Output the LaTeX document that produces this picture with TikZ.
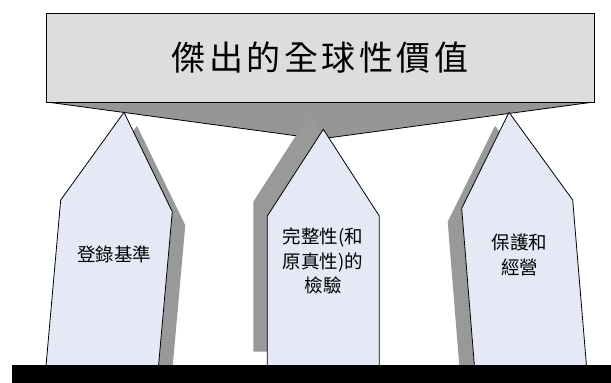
\documentclass[tikz,border=0pt]{standalone}
\usepackage{fontspec}
\newfontfamily\cjk{Noto Sans CJK TC}
\definecolor{boxfill}{HTML}{DDDDDD}
\definecolor{trifill}{HTML}{969696}
\definecolor{shade}{HTML}{999999}
\definecolor{pillarfill}{HTML}{E5E9F5}
\tikzset{
  outline/.style={draw=black,line width=0.8pt,line join=miter},
  pillar/.style={fill=pillarfill,draw=black,line width=0.8pt},
  shadowshape/.style={fill=shade,draw=none},
  pillartext/.style={font=\cjk\fontsize{18.5}{24.5}\selectfont,align=center,inner sep=0pt},
  titletext/.style={font=\cjk\fontsize{34}{34}\selectfont,inner sep=0pt}
}
\newcommand{\tsp}{\kern3.5pt}
\begin{document}
\begin{tikzpicture}[x=1pt,y=-1pt]
\useasboundingbox (0,0) rectangle (611,383);
% callout tip
\coordinate (bl) at (46.7,102);
\coordinate (br) at (594,102);
\coordinate (tip) at (320,139);
\fill[trifill] (bl) -- (br) -- (tip) -- cycle;
\draw[outline] (bl) -- (tip) -- (br);
% title box
\draw[outline,fill=boxfill] (46.7,13) rectangle (594,102);
\node[titletext] (title) at (320,57.5) {傑\tsp 出\tsp 的\tsp 全\tsp 球\tsp 性\tsp 價\tsp 值};
% shadows
\begin{scope}[shift={(-14,-14.3)}]
\fill[shadowshape] (323.3,129.3) -- (379.3,216) -- (379.3,366) -- (267.3,366) -- (267.3,216) -- cycle;
\end{scope}
\begin{scope}[shift={(13,13.5)}]
\fill[shadowshape] (124,112.3) -- (172.3,211.7) -- (158.5,366) -- (46,366) -- (60.7,200) -- cycle;
\end{scope}
\begin{scope}[shift={(-14,13.5)}]
\fill[shadowshape] (509,112.3) -- (572.7,200) -- (586.5,366) -- (474.4,366) -- (461.7,208.3) -- cycle;
\end{scope}
% pillars
\draw[pillar] (124,112.3) -- (172.3,211.7) -- (158.5,366) -- (46,366) -- (60.7,200) -- cycle;
\draw[pillar] (323.3,129.3) -- (379.3,216) -- (379.3,366) -- (267.3,366) -- (267.3,216) -- cycle;
\draw[pillar] (509,112.3) -- (572.7,200) -- (586.5,366) -- (474.4,366) -- (461.7,208.3) -- cycle;
% base bar
\fill[black] (11.7,365) rectangle (611,383);
% texts
\node[pillartext] (t1) at (114,254) {登錄基準};
\node[pillartext] (t2) at (323,261) {完整性(和\\原真性)的\\檢驗};
\node[pillartext] (t3) at (519.5,255) {保護和\\經營};
\end{tikzpicture}
\end{document}
